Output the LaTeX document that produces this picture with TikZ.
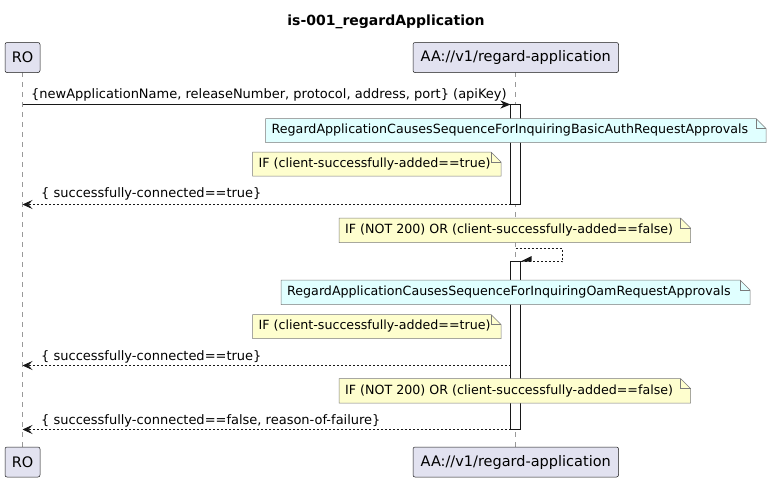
\documentclass[tikz,border=0pt]{standalone}
\usepackage{fontspec}
\setmainfont{DejaVu Sans}
\usetikzlibrary{arrows.meta}
\definecolor{partfill}{HTML}{E2E2F0}
\definecolor{partline}{HTML}{181818}
\definecolor{noteyellow}{HTML}{FEFECE}
\definecolor{notecyan}{HTML}{E0FFFF}
\definecolor{notebord}{HTML}{7A7A7A}
\tikzset{
  part/.style={draw=partline, fill=partfill, rounded corners=2pt, line width=0.5pt, inner sep=0pt},
  parttext/.style={font=\fontsize{14.5}{16}\selectfont, inner sep=0pt},
  lifeline/.style={draw=gray!80, dashed, dash pattern=on 5pt off 5pt, line width=0.5pt},
  actbar/.style={draw=partline, fill=white, line width=0.8pt},
  msgtext/.style={font=\fontsize{13}{15}\selectfont, inner sep=0pt, anchor=west},
  notetext/.style={font=\fontsize{12.65}{15}\selectfont, inner sep=0pt, anchor=west},
  noteshape/.style={draw=notebord, line width=0.5pt},
  sync/.style={draw=partline, line width=0.9pt, -{Stealth[length=10pt,width=8pt,inset=3pt]}},
  reply/.style={draw=partline, line width=0.7pt, dash pattern=on 2pt off 2pt, -{Stealth[length=10pt,width=9pt,inset=4pt]}},
}
\newcommand\mynote[7]{%
  \filldraw[noteshape, fill=#6] (#2,#3) -- ({#4-10},#3) -- (#4,{#3+10}) -- (#4,#5) -- (#2,#5) -- cycle;
  \draw[noteshape] ({#4-10},#3) -- ({#4-10},{#3+10}) -- (#4,{#3+10});
  \node[notetext] (#1) at ({#2+6},{(#3+#5)/2}) {#7};
}
\begin{document}
\begin{tikzpicture}[x=1pt,y=-1pt]
\useasboundingbox (0,0) rectangle (772,482);
% title
\node[font=\bfseries\fontsize{14}{16}\selectfont, inner sep=0pt] (title) at (386,22) {is-001\_regardApplication};
% lifelines
\coordinate (roTop) at (22.5,72);
\coordinate (roBot) at (22.5,447);
\coordinate (aaTop) at (515.5,72);
\coordinate (aaBot) at (515.5,447);
\draw[lifeline] (roTop) -- (roBot);
\draw[lifeline] (aaTop) -- (aaBot);
% participants
\draw[part] (5,42.5) rectangle (40,72.5);
\node[parttext] (ro1) at (22.5,57.5) {RO};
\draw[part] (413,42.5) rectangle (618.5,72.5);
\node[parttext] (aa1) at (515.75,57.5) {AA://v1/regard-application};
\draw[part] (5,447) rectangle (40,477);
\node[parttext] (ro2) at (22.5,462) {RO};
\draw[part] (413,447) rectangle (618.5,477);
\node[parttext] (aa2) at (515.75,462) {AA://v1/regard-application};
% activation bars
\draw[actbar] (510.5,104.5) rectangle (520.5,204.5);
\draw[actbar] (510.5,261.5) rectangle (520.5,429.5);
\coordinate (a1L) at (510.5,104.5);
\coordinate (ro104) at (22.5,104.5);
% message 1
\draw[sync] (ro104) -- (a1L);
\node[msgtext] (m1) at (31,95) {\{newApplicationName, releaseNumber, protocol, address, port\} (apiKey)};
% notes
\mynote{n1}{265.5}{118.5}{766}{142.5}{notecyan}{RegardApplicationCausesSequenceForInquiringBasicAuthRequestApprovals}
\mynote{n2}{252.5}{152}{501}{176}{noteyellow}{IF (client-successfully-added==true)}
% reply 1
\coordinate (r1s) at (510.5,204.5);
\coordinate (r1e) at (22.5,204.5);
\draw[reply] (r1s) -- (r1e);
\node[msgtext] (l1) at (41,194) {\{ successfully-connected==true\}};
\mynote{n3}{339}{218}{690.5}{242.5}{noteyellow}{IF (NOT 200) OR (client-successfully-added==false)}
% self message
\coordinate (s0) at (515.5,248.5);
\coordinate (s1) at (562.5,248.5);
\coordinate (s2) at (562.5,261.5);
\coordinate (s3) at (520.5,261.5);
\draw[partline, line width=0.7pt, dash pattern=on 2pt off 2pt] (s0) -- (s1) -- (s2) -- (s3);
\fill[partline] (s3) -- ++(11,-5.5) -- ++(0,5.5) -- cycle;
\mynote{n4}{281}{280}{750}{304.5}{notecyan}{RegardApplicationCausesSequenceForInquiringOamRequestApprovals}
\mynote{n5}{252.5}{314.5}{501}{338.5}{noteyellow}{IF (client-successfully-added==true)}
% reply 2
\coordinate (r2s) at (510.5,365.5);
\coordinate (r2e) at (22.5,365.5);
\draw[reply] (r2s) -- (r2e);
\node[msgtext] (l2) at (41,356.5) {\{ successfully-connected==true\}};
\mynote{n6}{339}{378.5}{690.5}{403}{noteyellow}{IF (NOT 200) OR (client-successfully-added==false)}
% reply 3
\coordinate (r3s) at (510.5,429.5);
\coordinate (r3e) at (22.5,429.5);
\draw[reply] (r3s) -- (r3e);
\node[msgtext] (l3) at (41,421) {\{ successfully-connected==false, reason-of-failure\}};
\end{tikzpicture}
\end{document}
